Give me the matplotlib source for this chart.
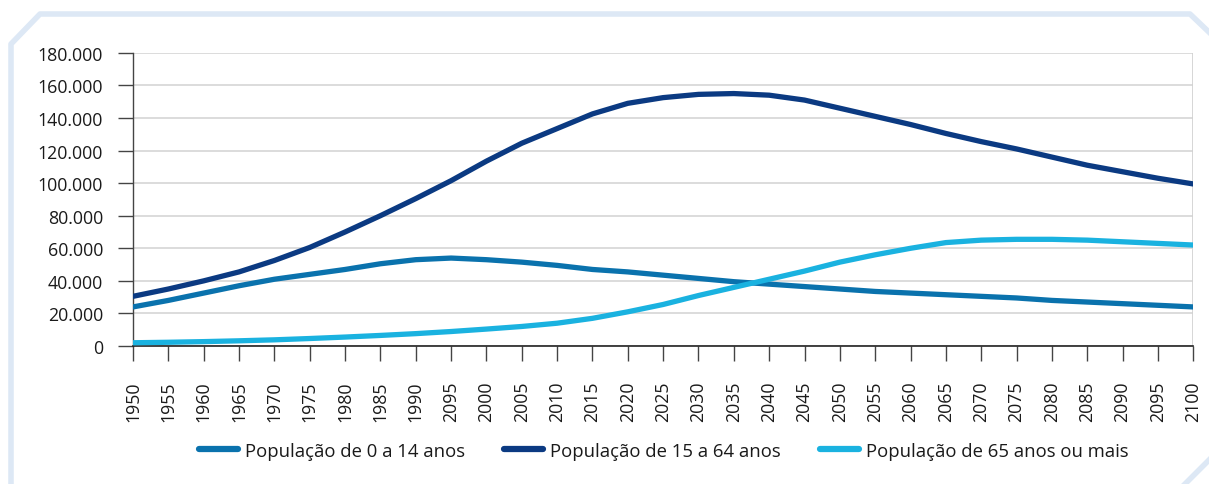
import matplotlib
matplotlib.use("Agg")
import matplotlib.pyplot as plt
from matplotlib.lines import Line2D
from matplotlib.ticker import FuncFormatter

years = list(range(1950, 2101, 5))
tick_labels = ["1950", "1955", "1960", "1965", "1970", "1975", "1980", "1985", "1990", "2095",
               "2000", "2005", "2010", "2015", "2020", "2025", "2030", "2035", "2040", "2045",
               "2050", "2055", "2060", "2065", "2070", "2075", "2080", "2085", "2090", "2095", "2100"]

pop_0_14 = [24000, 28000, 32500, 37000, 41000, 44000, 47000, 50500, 53000, 54000,
            53000, 51500, 49500, 47000, 45500, 43500, 41500, 39500, 38000, 36500,
            35000, 33500, 32500, 31500, 30500, 29500, 28000, 27000, 26000, 25000, 24000]
pop_15_64 = [30500, 35000, 40000, 45500, 52500, 60500, 70000, 80000, 90500, 101500,
             113500, 124500, 133500, 142500, 149000, 152500, 154500, 155000, 154000, 151000,
             146000, 141000, 136000, 130500, 125500, 121000, 116000, 111000, 107000, 103000, 99500]
pop_65 = [2000, 2300, 2700, 3200, 3800, 4600, 5500, 6500, 7600, 8900,
          10400, 12000, 14000, 17000, 21000, 25500, 31000, 36000, 41000, 46000,
          51500, 56000, 60000, 63500, 65000, 65500, 65500, 65000, 64000, 63000, 62000]

series_labels = ["População de 0 a 14 anos", "População de 15 a 64 anos", "População de 65 anos ou mais"]
colors = ["#0a72ad", "#0b3a82", "#1ab2e0"]

plt.rcParams['font.family'] = ['Open Sans', 'DejaVu Sans']

fig = plt.figure(figsize=(12.09, 4.85), dpi=100)
ax = fig.add_axes([0.110, 0.2845, 0.877, 0.6045])

for vals, c, lab in zip([pop_0_14, pop_15_64, pop_65], colors, series_labels):
    ax.plot(years, vals, color=c, lw=3.8, solid_capstyle='round', solid_joinstyle='round', label=lab, zorder=3)

ax.set_xlim(1950, 2100)
ax.set_ylim(0, 180000)
ax.set_yticks(range(0, 180001, 20000))
ax.yaxis.set_major_formatter(FuncFormatter(lambda v, p: "0" if v == 0 else f"{int(v):,}".replace(",", ".")))
ax.set_xticks(years)
ax.set_xticklabels(tick_labels, rotation=90)
ax.grid(axis='y', color='#d9d9d9', lw=1.3)
ax.set_axisbelow(True)

for s in ['top', 'right']:
    ax.spines[s].set_visible(False)
ax.spines['left'].set_color('#444444')
ax.spines['left'].set_linewidth(1.0)
ax.spines['bottom'].set_color('#222222')
ax.spines['bottom'].set_linewidth(1.2)
ax.axvline(2100, color='#d0d0d0', lw=1.2, zorder=1)

ax.tick_params(axis='y', length=11, width=1.0, color='#444444', labelsize=12.8, labelcolor='#1a1a1a', pad=10.5)
ax.tick_params(axis='x', length=11, width=1.0, color='#444444', labelsize=12.8, labelcolor='#1a1a1a', pad=14)

handles = [Line2D([0], [0], color=c, lw=4.5, solid_capstyle='round') for c in colors]
fig.legend(handles, series_labels, loc='center', bbox_to_anchor=(0.549, 0.069), ncol=3, frameon=False,
           fontsize=13.3, handlelength=2.1, handletextpad=0.4, columnspacing=2.1, labelcolor='#1a1a1a')

# decorative frame
fc = '#dde8f5'
W, H = 1209, 485
def fl(xs, ys):
    fig.add_artist(Line2D([x / W for x in xs], [1 - y / H for y in ys], color=fc, lw=4, transform=fig.transFigure))
fl([11, 11, 40, 1190, 1212], [490, 45, 15, 15, 36])
fl([1180, 1212], [490, 458])

fig.savefig("out.png", dpi=100)
